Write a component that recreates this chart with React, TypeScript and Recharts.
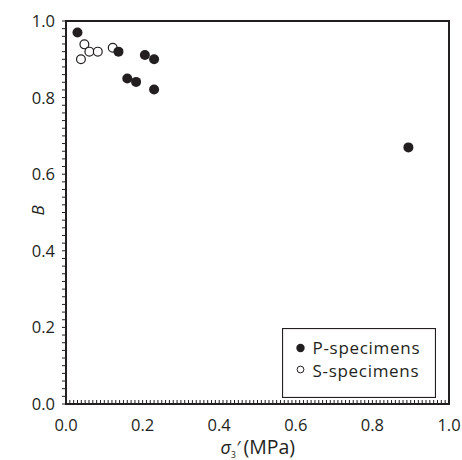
import React from 'react';
import { ScatterChart, Scatter, XAxis, YAxis, ReferenceArea, Legend, Label } from 'recharts';

const pSpecimenX = [0.03, 0.137, 0.16, 0.183, 0.206, 0.23, 0.23, 0.894];
const pSpecimenY = [0.97, 0.92, 0.85, 0.841, 0.911, 0.9, 0.821, 0.67];
const sSpecimenX = [0.039, 0.048, 0.061, 0.083, 0.122];
const sSpecimenY = [0.9, 0.939, 0.92, 0.92, 0.93];

const majorTickLabels = ['0.0', '0.2', '0.4', '0.6', '0.8', '1.0'];
const seriesNames = ['P-specimens', 'S-specimens'];

const xMinorTicks: number[] = [];
for (let i = 0; i <= 100; i++) xMinorTicks.push(i / 100);
const yMinorTicks: number[] = [];
for (let i = 0; i <= 50; i++) yMinorTicks.push(i / 50);

const pData = pSpecimenX.map((x, i) => ({ x, y: pSpecimenY[i] }));
const sData = sSpecimenX.map((x, i) => ({ x, y: sSpecimenY[i] }));

const INK = '#231f20';
const FONT = '"Open Sans", "Noto Sans", sans-serif';

const majorIndex = (v: number) => {
  const k = v * 5;
  return Math.abs(k - Math.round(k)) < 1e-6 ? Math.round(k) : -1;
};

const XTick = (props: any) => {
  const { x, y, payload } = props;
  const mi = majorIndex(payload.value);
  return (
    <g>
      <line x1={x} x2={x} y1={y} y2={y - 4} stroke={INK} strokeWidth={1} />
      {mi >= 0 && (
        <text x={x} y={y + 27} textAnchor="middle" fontSize={16.5} fill={INK} fontFamily={FONT}>
          {majorTickLabels[mi]}
        </text>
      )}
    </g>
  );
};

const YTick = (props: any) => {
  const { x, y, payload } = props;
  const mi = majorIndex(payload.value);
  return (
    <g>
      <line x1={x} x2={x - 4} y1={y} y2={y} stroke={INK} strokeWidth={1} />
      {mi >= 0 && (
        <text x={x - 11} y={y + 6} textAnchor="end" fontSize={16.5} fill={INK} fontFamily={FONT}>
          {majorTickLabels[mi]}
        </text>
      )}
    </g>
  );
};

const FilledDot = (props: any) => <circle cx={props.cx} cy={props.cy} r={5} fill={INK} />;
const OpenDot = (props: any) => (
  <circle cx={props.cx} cy={props.cy} r={4.4} fill="#ffffff" stroke={INK} strokeWidth={1.2} />
);

const LegendBox = () => (
  <svg width={154} height={70}>
    <rect x={0.5} y={0.5} width={153} height={69} fill="#ffffff" stroke={INK} strokeWidth={1.2} />
    <circle cx={18.5} cy={20} r={4.2} fill={INK} />
    <text x={30.5} y={25.5} fontSize={17} letterSpacing={0.7} fill={INK} fontFamily={FONT}>{seriesNames[0]}</text>
    <circle cx={18.5} cy={41.5} r={3.4} fill="#ffffff" stroke={INK} strokeWidth={1} />
    <text x={30.5} y={49} fontSize={17} letterSpacing={0.7} fill={INK} fontFamily={FONT}>{seriesNames[1]}</text>
  </svg>
);

const XTitle = (props: any) => {
  const vb = props.viewBox || { x: 66, y: 404, width: 383, height: 40 };
  const left = vb.x + vb.width / 2 - 37;
  const by = vb.y + 50;
  return (
    <g fill={INK} fontFamily={FONT}>
      <text x={left} y={by} fontSize={18} fontStyle="italic">σ</text>
      <text x={left + 10.5} y={by + 4} fontSize={8.5}>3</text>
      <text x={left + 16} y={by} fontSize={18}>′</text>
      <text x={left + 23} y={by} fontSize={19.5}>(MPa)</text>
    </g>
  );
};

const YTitle = (props: any) => {
  const vb = props.viewBox || { x: 16, y: 21, width: 50, height: 383 };
  const cy = vb.y + vb.height / 2 - 2;
  const cx = 44;
  return (
    <text x={cx} y={cy} transform={`rotate(-90 ${cx} ${cy})`} textAnchor="middle" fontSize={17} fontStyle="italic" fill={INK} fontFamily={FONT}>
      B
    </text>
  );
};

export default function App() {
  return (
    <div style={{ position: 'absolute', left: 0, top: 0, width: 462, height: 460, background: '#fff' }}>
      <ScatterChart width={462} height={460} margin={{ top: 21, right: 13, bottom: 16, left: 16 }}>
        <XAxis
          type="number"
          dataKey="x"
          domain={[0, 1]}
          ticks={xMinorTicks}
          interval={0}
          tickSize={0}
          tickMargin={0}
          tickLine={false}
          tick={<XTick />}
          axisLine={{ stroke: INK, strokeWidth: 2 }}
          height={40}
          allowDataOverflow
        >
          <Label content={<XTitle />} />
        </XAxis>
        <YAxis
          type="number"
          dataKey="y"
          domain={[0, 1]}
          ticks={yMinorTicks}
          interval={0}
          tickSize={0}
          tickMargin={0}
          tickLine={false}
          tick={<YTick />}
          axisLine={{ stroke: INK, strokeWidth: 2 }}
          width={50}
          allowDataOverflow
        >
          <Label content={<YTitle />} />
        </YAxis>
        <ReferenceArea x1={0} x2={1} y1={0} y2={1} fill="none" fillOpacity={0} stroke={INK} strokeWidth={2} />
        <Scatter name={seriesNames[1]} data={sData} shape={<OpenDot />} isAnimationActive={false} />
        <Scatter name={seriesNames[0]} data={pData} shape={<FilledDot />} isAnimationActive={false} />
        <Legend
          layout="horizontal"
          verticalAlign="middle"
          align="center"
          content={<LegendBox />}
          wrapperStyle={{ position: 'absolute', left: 282, top: 328, width: 154, height: 70 }}
        />
      </ScatterChart>
    </div>
  );
}
